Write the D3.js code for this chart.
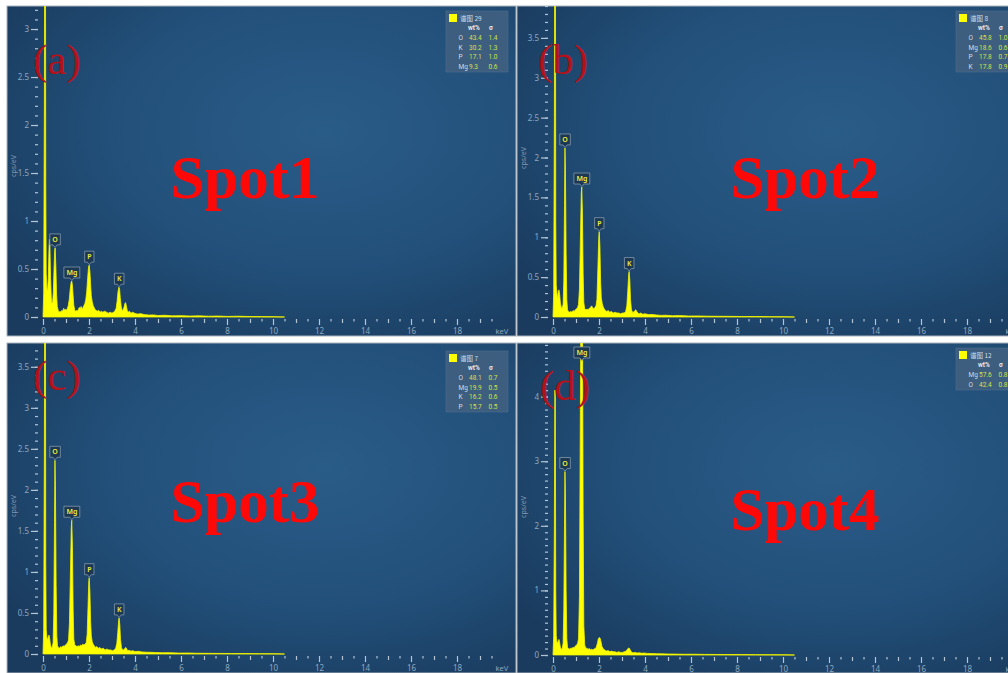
<!DOCTYPE html>
<html>
<head>
<meta charset="utf-8">
<script src="https://cdn.jsdelivr.net/npm/d3@7"></script>
<style>
  html, body { margin: 0; padding: 0; background: #ffffff; }
  svg { display: block; }
</style>
</head>
<body>
<svg id="chart" width="1008" height="673"></svg>
<script>
// ---------- EDS spectra: [energy keV, intensity cps/eV] ----------
const spectrumA = [
  [0.00,0.00],[0.03,0.25],[0.06,2.2],[0.08,5.5],[0.10,5.5],[0.12,1.4],[0.14,0.45],[0.17,0.30],[0.20,0.27],[0.23,0.40],
  [0.26,0.70],[0.28,0.81],[0.30,0.74],[0.33,0.40],[0.36,0.20],[0.39,0.14],[0.42,0.16],[0.45,0.26],[0.48,0.50],[0.51,0.70],
  [0.53,0.72],[0.56,0.52],[0.59,0.24],[0.62,0.11],[0.66,0.07],[0.70,0.05],[0.74,0.06],[0.78,0.05],[0.82,0.07],[0.86,0.06],
  [0.90,0.09],[0.94,0.07],[0.98,0.08],[1.02,0.07],[1.06,0.09],[1.10,0.12],[1.14,0.18],[1.18,0.28],[1.22,0.36],[1.25,0.375],
  [1.28,0.33],[1.31,0.22],[1.34,0.12],[1.38,0.07],[1.42,0.06],[1.46,0.07],[1.50,0.06],[1.54,0.08],[1.58,0.10],[1.62,0.09],
  [1.66,0.11],[1.70,0.08],[1.74,0.10],[1.78,0.12],[1.82,0.14],[1.86,0.18],[1.90,0.26],[1.94,0.40],[1.98,0.52],[2.01,0.54],
  [2.04,0.47],[2.07,0.34],[2.10,0.22],[2.14,0.16],[2.18,0.12],[2.22,0.10],[2.26,0.08],[2.30,0.07],[2.36,0.06],[2.42,0.07],
  [2.48,0.05],[2.54,0.06],[2.60,0.05],[2.68,0.06],[2.76,0.05],[2.84,0.04],[2.92,0.05],[3.00,0.04],[3.06,0.05],[3.12,0.06],
  [3.18,0.09],[3.22,0.16],[3.26,0.26],[3.30,0.31],[3.33,0.29],[3.36,0.20],[3.40,0.11],[3.44,0.07],[3.48,0.07],[3.52,0.10],
  [3.56,0.14],[3.59,0.15],[3.62,0.12],[3.66,0.07],[3.70,0.05],[3.76,0.06],[3.82,0.04],[3.90,0.05],[3.98,0.04],[4.10,0.03],
  [4.25,0.035],[4.40,0.025],[4.60,0.02],[4.80,0.022],[5.00,0.015],[5.30,0.018],[5.60,0.012],[6.00,0.014],[6.40,0.01],
  [6.80,0.012],[7.20,0.008],[7.60,0.01],[8.00,0.006],[8.50,0.008],[9.00,0.005],[9.50,0.004],[10.00,0.003],[10.50,0]
];
const spectrumB = [
  [0.00,0.00],[0.03,0.30],[0.06,2.5],[0.08,6.0],[0.10,6.0],[0.12,1.2],[0.14,0.40],[0.17,0.30],[0.20,0.22],[0.23,0.32],
  [0.26,0.34],[0.29,0.28],[0.32,0.18],[0.36,0.12],[0.40,0.11],[0.44,0.16],[0.47,0.45],[0.50,1.40],[0.52,2.12],[0.54,1.85],
  [0.57,0.80],[0.60,0.22],[0.63,0.09],[0.67,0.07],[0.72,0.06],[0.77,0.07],[0.82,0.06],[0.87,0.08],[0.92,0.07],[0.97,0.09],
  [1.02,0.10],[1.07,0.12],[1.11,0.16],[1.15,0.35],[1.19,0.95],[1.23,1.55],[1.25,1.63],[1.28,1.30],[1.31,0.55],[1.34,0.18],
  [1.38,0.10],[1.43,0.09],[1.48,0.10],[1.53,0.09],[1.58,0.11],[1.63,0.12],[1.68,0.14],[1.72,0.12],[1.77,0.10],[1.82,0.12],
  [1.87,0.14],[1.91,0.22],[1.95,0.60],[1.99,1.00],[2.01,1.07],[2.04,0.88],[2.07,0.45],[2.10,0.24],[2.14,0.17],[2.18,0.13],
  [2.23,0.10],[2.28,0.08],[2.34,0.07],[2.40,0.08],[2.47,0.06],[2.54,0.07],[2.62,0.05],[2.70,0.06],[2.78,0.05],[2.86,0.05],
  [2.94,0.04],[3.02,0.05],[3.10,0.05],[3.16,0.07],[3.21,0.14],[3.25,0.32],[3.29,0.53],[3.31,0.57],[3.34,0.46],[3.37,0.22],
  [3.41,0.09],[3.46,0.06],[3.51,0.06],[3.56,0.08],[3.60,0.09],[3.64,0.07],[3.69,0.05],[3.75,0.04],[3.82,0.05],[3.90,0.035],
  [4.00,0.04],[4.15,0.03],[4.30,0.032],[4.50,0.025],[4.70,0.02],[4.90,0.022],[5.20,0.016],[5.50,0.018],[5.90,0.012],
  [6.30,0.013],[6.70,0.01],[7.20,0.009],[7.70,0.008],[8.20,0.006],[8.80,0.006],[9.40,0.004],[10.00,0.003],[10.50,0]
];
const spectrumC = [
  [0.00,0.00],[0.03,0.30],[0.06,2.5],[0.08,6.0],[0.10,6.0],[0.12,1.1],[0.14,0.30],[0.17,0.20],[0.20,0.17],[0.23,0.21],
  [0.26,0.23],[0.29,0.19],[0.32,0.12],[0.36,0.08],[0.40,0.08],[0.44,0.14],[0.47,0.50],[0.50,1.60],[0.52,2.36],[0.54,2.05],
  [0.57,0.85],[0.60,0.22],[0.63,0.10],[0.67,0.08],[0.72,0.07],[0.77,0.09],[0.82,0.08],[0.87,0.10],[0.92,0.09],[0.97,0.11],
  [1.02,0.12],[1.07,0.14],[1.11,0.17],[1.15,0.38],[1.19,0.95],[1.23,1.55],[1.25,1.63],[1.28,1.30],[1.31,0.55],[1.34,0.18],
  [1.38,0.11],[1.43,0.10],[1.48,0.09],[1.53,0.10],[1.58,0.09],[1.63,0.11],[1.68,0.10],[1.73,0.12],[1.78,0.11],[1.83,0.12],
  [1.88,0.14],[1.92,0.24],[1.96,0.60],[1.99,0.88],[2.01,0.93],[2.04,0.75],[2.07,0.40],[2.10,0.22],[2.14,0.15],[2.18,0.12],
  [2.23,0.10],[2.28,0.08],[2.34,0.09],[2.40,0.07],[2.47,0.08],[2.54,0.06],[2.62,0.07],[2.70,0.05],[2.78,0.06],[2.86,0.05],
  [2.94,0.05],[3.02,0.04],[3.10,0.05],[3.16,0.07],[3.21,0.13],[3.25,0.26],[3.29,0.41],[3.31,0.44],[3.34,0.35],[3.37,0.18],
  [3.41,0.08],[3.46,0.05],[3.51,0.05],[3.56,0.07],[3.60,0.08],[3.64,0.06],[3.69,0.04],[3.75,0.045],[3.82,0.035],[3.90,0.04],
  [4.00,0.03],[4.15,0.032],[4.30,0.025],[4.50,0.022],[4.70,0.02],[4.90,0.018],[5.20,0.015],[5.50,0.016],[5.90,0.011],
  [6.30,0.012],[6.70,0.009],[7.20,0.008],[7.70,0.007],[8.20,0.006],[8.80,0.005],[9.40,0.004],[10.00,0.003],[10.50,0]
];
const spectrumD = [
  [0.00,0.00],[0.03,0.30],[0.06,2.0],[0.08,4.1],[0.10,4.0],[0.12,1.0],[0.14,0.30],[0.17,0.20],[0.20,0.18],[0.23,0.22],
  [0.26,0.24],[0.29,0.19],[0.32,0.12],[0.36,0.09],[0.40,0.10],[0.44,0.18],[0.47,0.70],[0.50,2.00],[0.52,2.84],[0.54,2.50],
  [0.57,1.00],[0.60,0.25],[0.63,0.12],[0.67,0.10],[0.72,0.09],[0.77,0.11],[0.82,0.10],[0.87,0.12],[0.92,0.11],[0.97,0.14],
  [1.02,0.15],[1.07,0.18],[1.11,0.25],[1.15,0.90],[1.19,3.80],[1.23,6.50],[1.25,6.80],[1.28,5.60],[1.31,2.20],[1.34,0.45],
  [1.38,0.15],[1.43,0.11],[1.48,0.10],[1.53,0.09],[1.58,0.10],[1.63,0.08],[1.68,0.09],[1.73,0.08],[1.78,0.09],[1.83,0.10],
  [1.88,0.12],[1.93,0.18],[1.97,0.25],[2.01,0.27],[2.05,0.26],[2.09,0.20],[2.13,0.13],[2.18,0.10],[2.23,0.08],[2.28,0.07],
  [2.34,0.06],[2.40,0.07],[2.47,0.05],[2.54,0.06],[2.62,0.05],[2.70,0.05],[2.78,0.04],[2.86,0.05],[2.94,0.04],[3.02,0.04],
  [3.10,0.05],[3.18,0.06],[3.24,0.09],[3.29,0.11],[3.33,0.10],[3.38,0.06],[3.44,0.04],[3.50,0.035],[3.58,0.04],[3.66,0.03],
  [3.75,0.035],[3.85,0.028],[3.95,0.03],[4.10,0.025],[4.30,0.022],[4.50,0.02],[4.70,0.018],[5.00,0.015],[5.30,0.014],
  [5.70,0.011],[6.10,0.012],[6.60,0.009],[7.10,0.008],[7.60,0.007],[8.20,0.006],[8.80,0.005],[9.40,0.004],[10.00,0.003],[10.50,0]
];

// ---------- identified peaks: [element, line energy keV] ----------
const peaksA = [["O",0.525],["Mg",1.254],["P",2.013],["K",3.313]];
const peaksB = [["O",0.525],["Mg",1.254],["P",2.013],["K",3.313]];
const peaksC = [["O",0.525],["Mg",1.254],["P",2.013],["K",3.313]];
const peaksD = [["O",0.525],["Mg",1.254]];

// ---------- quantification tables: [element, wt%, sigma] ----------
const spectrumNames = ["谱图 29","谱图 8","谱图 7","谱图 12"];
const compA = [["O",43.4,1.4],["K",30.2,1.3],["P",17.1,1.0],["Mg",9.3,0.6]];
const compB = [["O",45.8,1.0],["Mg",18.6,0.6],["P",17.8,0.7],["K",17.8,0.9]];
const compC = [["O",48.1,0.7],["Mg",19.9,0.5],["K",16.2,0.6],["P",15.7,0.5]];
const compD = [["Mg",57.6,0.8],["O",42.4,0.8]];

// ---------- labels and axis ticks ----------
const panelLetters = ["(a)","(b)","(c)","(d)"];
const spotNames = ["Spot1","Spot2","Spot3","Spot4"];
const energyLabelTicks = [0,2,4,6,8,10,12,14,16,18];
const energyUnit = "keV";
const intensityUnit = "cps/eV";

// ---------- panel geometry ----------
const panels = [
  { spec: spectrumA, peaks: peaksA, comp: compA, dx: 0,   top: 6,   bottom: 336, yZero: 317, yMax: 3.24, yStep: 0.5,
    titleY: 166, letter: [33, 74],  spot: [245, 198], legendTop: 11 },
  { spec: spectrumB, peaks: peaksB, comp: compB, dx: 510, top: 6,   bottom: 336, yZero: 317, yMax: 3.90, yStep: 0.5,
    titleY: 158, letter: [538, 74], spot: [805, 198], legendTop: 11 },
  { spec: spectrumC, peaks: peaksC, comp: compC, dx: 0,   top: 343, bottom: 673, yZero: 654, yMax: 3.79, yStep: 0.5,
    titleY: 506, letter: [33, 390], spot: [245, 522], legendTop: 351 },
  { spec: spectrumD, peaks: peaksD, comp: compD, dx: 510, top: 343, bottom: 673, yZero: 655, yMax: 4.83, yStep: 1,
    titleY: 507, letter: [540, 400], spot: [805, 530], legendTop: 348 }
];

const svg = d3.select("#chart");
const defs = svg.append("defs");

const grad = defs.append("radialGradient")
  .attr("id", "screenBg").attr("cx", "62%").attr("cy", "38%").attr("r", "75%");
grad.append("stop").attr("offset", "0%").attr("stop-color", "#2a5c88");
grad.append("stop").attr("offset", "55%").attr("stop-color", "#22507a");
grad.append("stop").attr("offset", "100%").attr("stop-color", "#1a3b5e");

const tickColor = "#b3c4d4";
const tickLabelColor = "#8fa7bf";
const sansFont = "'Noto Sans', 'DejaVu Sans', sans-serif";
const tableFont = "'Liberation Sans Narrow', 'Roboto', 'Noto Sans', sans-serif";

panels.forEach((p, i) => {
  const left = 7 + p.dx, right = 510 + p.dx + 6;
  const g = svg.append("g");

  defs.append("clipPath").attr("id", "clip" + i)
    .append("rect").attr("x", left).attr("y", p.top)
    .attr("width", right - left).attr("height", p.bottom - p.top);

  // screen background
  g.append("rect").attr("x", left).attr("y", p.top)
    .attr("width", right - left).attr("height", p.bottom - p.top)
    .attr("fill", "url(#screenBg)").attr("stroke", "#aab4be").attr("stroke-width", 1);

  const body = g.append("g").attr("clip-path", `url(#clip${i})`);

  const x = d3.scaleLinear().domain([0, 20]).range([43 + p.dx, 503 + p.dx]);
  const y = d3.scaleLinear().domain([0, p.yMax]).range([p.yZero, p.top]);

  // spectrum
  const area = d3.area().x(d => x(d[0])).y0(p.yZero).y1(d => y(d[1]));
  body.append("path").datum(p.spec).attr("d", area)
    .attr("fill", "#ffff00").attr("stroke", "#f4f400").attr("stroke-width", 0.8)
    .attr("stroke-linejoin", "round");

  // y axis: labelled major ticks + minor ticks
  const yMajor = d3.range(0, Math.floor(p.yMax / p.yStep) + 1).map(k => +(k * p.yStep).toFixed(2));
  const yMinor = d3.range(0, Math.floor(p.yMax * 10) + 1).map(k => k / 10);
  const yAxisMinor = body.append("g").attr("transform", `translate(${38 + p.dx},0)`)
    .call(d3.axisLeft(y).tickValues(yMinor).tickSize(3).tickFormat(""));
  const yAxisMajor = body.append("g").attr("transform", `translate(${38 + p.dx},0)`)
    .call(d3.axisLeft(y).tickValues(yMajor).tickSize(7).tickPadding(2).tickFormat(d3.format("~g")));
  [yAxisMinor, yAxisMajor].forEach(a => {
    a.select(".domain").remove();
    a.selectAll("line").attr("stroke", tickColor).attr("stroke-width", 1.2);
    a.selectAll("text").attr("fill", tickLabelColor).style("font-family", sansFont).style("font-size", "8px");
  });

  body.append("text")
    .attr("transform", `translate(${16 + p.dx},${p.titleY}) rotate(-90)`)
    .attr("text-anchor", "middle").attr("fill", "#7f98b2")
    .style("font-family", sansFont).style("font-size", "7px")
    .text(intensityUnit);

  // x axis: half-keV, whole-keV and labelled ticks
  const xHalf = d3.range(0, 40).map(k => k / 2).filter(v => v % 1 !== 0);
  const xWhole = d3.range(1, 20).filter(v => v % 2 === 1);
  const xAxisY = p.yZero + 2;
  const axes = [
    d3.axisBottom(x).tickValues(xHalf).tickSize(2.5).tickFormat(""),
    d3.axisBottom(x).tickValues(xWhole).tickSize(4).tickFormat(""),
    d3.axisBottom(x).tickValues(energyLabelTicks).tickSize(6).tickPadding(3).tickFormat(d3.format("d"))
  ];
  axes.forEach(ax => {
    const a = body.append("g").attr("transform", `translate(0,${xAxisY})`).call(ax);
    a.select(".domain").remove();
    a.selectAll("line").attr("stroke", tickColor).attr("stroke-width", 1.2);
    a.selectAll("text").attr("fill", tickLabelColor).style("font-family", sansFont).style("font-size", "8px");
  });
  body.append("text")
    .attr("x", x(19.95)).attr("y", xAxisY + 15)
    .attr("text-anchor", "middle").attr("fill", tickLabelColor)
    .style("font-family", sansFont).style("font-size", "7.5px")
    .text(energyUnit);

  // peak markers
  p.peaks.forEach(([el, e]) => {
    const peak = d3.max(p.spec.filter(d => Math.abs(d[0] - e) <= 0.05), d => d[1]);
    const cx = x(e);
    let b = y(peak) - 3;
    if (b - 11 < p.top + 4) b = p.top + 15;
    const t = b - 11;
    const lg = body.append("g");
    const shape = lg.append("path");
    const txt = lg.append("text")
      .attr("x", cx).attr("y", b - 3)
      .attr("text-anchor", "middle").attr("fill", "#eef23a")
      .style("font-family", sansFont).style("font-size", "7px").style("font-weight", "600")
      .text(el);
    const w = txt.node().getComputedTextLength() + 5;
    const l = cx - w / 2, r = cx + w / 2;
    shape.attr("d", `M${l},${t}H${r}V${b}H${cx + 2}L${cx},${b + 2.5}L${cx - 2},${b}H${l}Z`)
      .attr("fill", "#1c3853").attr("stroke", "#8198ad").attr("stroke-width", 0.8);
  });

  // quantification table
  const L = 446 + p.dx, T = p.legendTop;
  const leg = body.append("g");
  leg.append("rect").attr("x", L).attr("y", T).attr("width", 62).attr("height", 23 + p.comp.length * 9.5)
    .attr("fill", "#3d5e7e").attr("stroke", "#4d6d8c").attr("stroke-width", 0.6);
  leg.append("rect").attr("x", L + 3).attr("y", T + 3).attr("width", 8).attr("height", 8)
    .attr("fill", "#ffff00");
  leg.append("text").attr("x", L + 14).attr("y", T + 10)
    .attr("fill", "#d3dbe3")
    .style("font-family", "'Noto Sans CJK SC', 'Noto Sans', sans-serif").style("font-size", "6.5px")
    .text(spectrumNames[i]);
  leg.append("text").attr("x", L + 22).attr("y", T + 18.5).attr("fill", "#e4eaf0")
    .style("font-family", tableFont).style("font-size", "6.5px").style("font-weight", "700").text("wt%");
  leg.append("text").attr("x", L + 43).attr("y", T + 18.5).attr("fill", "#e4eaf0")
    .style("font-family", tableFont).style("font-size", "6.5px").style("font-weight", "700").text("σ");
  p.comp.forEach(([el, wt, sd], k) => {
    const by = T + 29 + k * 9.5;
    leg.append("text").attr("x", L + 12.5).attr("y", by).attr("fill", "#d3dbe3")
      .style("font-family", tableFont).style("font-size", "6.5px").text(el);
    leg.append("text").attr("x", L + 23).attr("y", by).attr("fill", "#d6e04c")
      .style("font-family", tableFont).style("font-size", "6.5px").text(wt.toFixed(1));
    leg.append("text").attr("x", L + 42.5).attr("y", by).attr("fill", "#d6e04c")
      .style("font-family", tableFont).style("font-size", "6.5px").text(sd.toFixed(1));
  });

  // panel letter and spot name
  svg.append("text").attr("x", p.letter[0]).attr("y", p.letter[1])
    .attr("fill", "#b3121a")
    .style("font-family", "'Liberation Serif', 'Times New Roman', serif").style("font-size", "43px")
    .text(panelLetters[i]);
  svg.append("text").attr("x", p.spot[0]).attr("y", p.spot[1])
    .attr("text-anchor", "middle").attr("fill", "#ff0808")
    .style("font-family", "'Liberation Serif', 'Times New Roman', serif")
    .style("font-size", "61px").style("font-weight", "700")
    .text(spotNames[i]);
});
</script>
</body>
</html>
